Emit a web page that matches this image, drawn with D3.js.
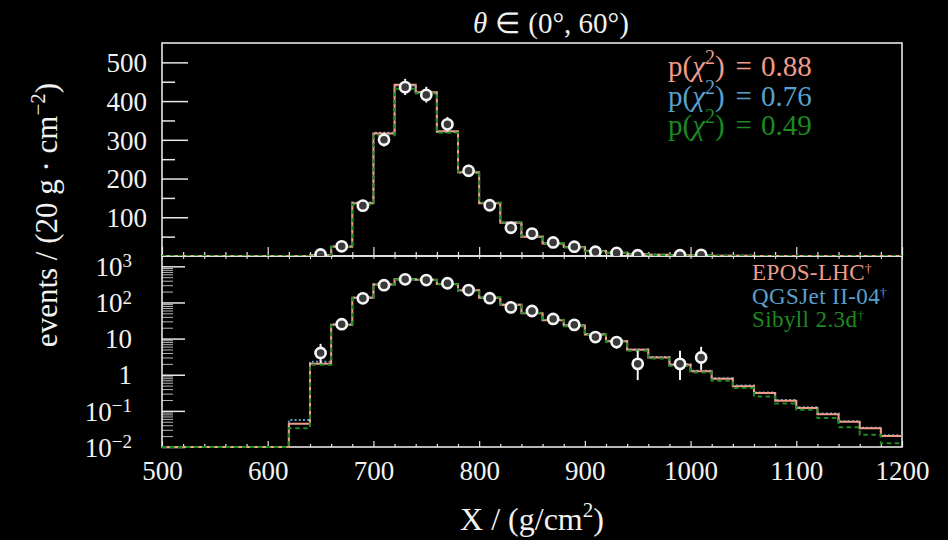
<!DOCTYPE html>
<html>
<head>
<meta charset="utf-8">
<script src="https://cdn.jsdelivr.net/npm/d3@7"></script>
<style>
  html, body { margin: 0; padding: 0; background: #000; }
  svg { display: block; }
  text { font-family: "Liberation Serif", "Times New Roman", serif; fill: #f2f2f2; }
</style>
</head>
<body>
<svg id="chart" width="948" height="540"></svg>
<script>
// Bin edges of the depth histogram, g/cm^2
const binEdges = [500, 520, 540, 560, 580, 600, 620, 640, 660, 680, 700, 720, 740, 760, 780,
  800, 820, 840, 860, 880, 900, 920, 940, 960, 980, 1000, 1020, 1040, 1060, 1080,
  1100, 1120, 1140, 1160, 1180, 1200];

// Expected events per bin for each hadronic interaction model
const eposLHC = [0, 0, 0, 0, 0, 0, 0.044, 2.0, 24, 136, 316, 442, 423, 322, 216,
  136, 86, 50, 32, 23, 13, 8.4, 4.9, 3.0, 1.9, 1.24, 0.78, 0.48, 0.31, 0.19,
  0.12, 0.081, 0.050, 0.033, 0.020];
const qgsjet = [0, 0, 0, 0, 0, 0, 0.056, 2.3, 25, 138, 318, 440, 420, 320, 215,
  137, 87, 51, 32.5, 23.5, 13.3, 8.6, 5.0, 3.1, 1.95, 1.28, 0.80, 0.50, 0.32, 0.20,
  0.125, 0.084, 0.052, 0.034, 0.021];
const sibyll = [0, 0, 0, 0, 0, 0, 0.033, 1.9, 23, 133, 312, 432, 420, 318, 218,
  138, 87, 52, 33, 22, 12.5, 8.0, 4.6, 2.8, 1.75, 1.15, 0.68, 0.43, 0.25, 0.16,
  0.107, 0.063, 0.035, 0.022, 0.0127];

// Observed events (bin centres) with 68% Poisson intervals
const dataX  = [650, 670, 690, 710, 730, 750, 770, 790, 810, 830, 850, 870, 890, 910, 930, 950, 990, 1010];
const dataN  = [4, 25, 130, 300, 436, 416, 340, 220, 131, 73, 58, 35, 24, 11, 8, 2, 2, 3];
const dataLo = [2.09, 20.1, 118.7, 282.8, 415.6, 396.1, 321.8, 205.4, 119.7, 64.6, 50.6, 29.3, 19.4, 7.7, 5.25, 0.71, 0.71, 1.37];
const dataHi = [7.16, 30.6, 141.9, 317.8, 457.4, 436.9, 359.0, 235.6, 143.0, 82.1, 66.2, 41.4, 29.7, 15.4, 11.8, 4.64, 4.64, 5.92];

const modelNames = ["EPOS-LHC", "QGSJet II-04", "Sibyll 2.3d"];
const pChi2 = ["0.88", "0.76", "0.49"];
const modelColors = ["#ef9c8b", "#5aa0cc", "#1d8a22"];

const linTicks = [100, 200, 300, 400, 500];
const linMinor = [50, 150, 250, 350, 450];
const logTicks = [0.01, 0.1, 1, 10, 100, 1000];
const logTickBase = ["10", "10", "1", "10", "10", "10"];
const logTickExp = ["−2", "−1", "", "", "2", "3"];
const xTicks = [500, 600, 700, 800, 900, 1000, 1100, 1200];

const svg = d3.select("#chart");
const left = 162, right = 902;
const topP = { y0: 43, y1: 256 };
const botP = { y0: 256, y1: 447 };

const x = d3.scaleLinear().domain([500, 1200]).range([left, right]);
const yLin = d3.scaleLinear().domain([0, 550]).range([topP.y1, topP.y0]);
const yLog = d3.scaleLog().domain([0.01, 1930]).range([botP.y1, botP.y0]).clamp(true);

const frameColor = "#e6e6e6";
const minorX = d3.range(500, 1201, 20).filter(v => v % 100 !== 0);

// clip regions for the two panels
const defs = svg.append("defs");
defs.append("clipPath").attr("id", "clipTop").append("rect")
  .attr("x", left).attr("y", topP.y0).attr("width", right - left).attr("height", topP.y1 - topP.y0);
defs.append("clipPath").attr("id", "clipBot").append("rect")
  .attr("x", left).attr("y", botP.y0 - 1).attr("width", right - left).attr("height", botP.y1 - botP.y0 + 2);

function styleAxis(g, color, width) {
  g.select(".domain").remove();
  g.selectAll(".tick line").attr("stroke", color).attr("stroke-width", width);
}

// ---------- top panel: linear scale ----------
const gTop = svg.append("g");
gTop.append("g").attr("transform", `translate(${left},0)`)
  .call(d3.axisLeft(yLin).tickValues(linTicks).tickSizeInner(-26).tickSizeOuter(0).tickPadding(15))
  .call(g => styleAxis(g, frameColor, 1.5))
  .call(g => g.selectAll("text").attr("font-size", 27).attr("fill", "#f2f2f2")
    .attr("font-family", "Liberation Serif, serif").attr("dy", "0.34em"));
gTop.append("g").attr("transform", `translate(${left},0)`)
  .call(d3.axisLeft(yLin).tickValues(linMinor).tickSizeInner(-13).tickSizeOuter(0).tickFormat(""))
  .call(g => styleAxis(g, frameColor, 1.5));
gTop.append("g").attr("transform", `translate(0,${topP.y1})`)
  .call(d3.axisBottom(x).tickValues(xTicks).tickSizeInner(-9).tickSizeOuter(0).tickFormat(""))
  .call(g => styleAxis(g, frameColor, 1.2));
gTop.append("g").attr("transform", `translate(0,${topP.y1})`)
  .call(d3.axisBottom(x).tickValues(minorX).tickSizeInner(-4).tickSizeOuter(0).tickFormat(""))
  .call(g => styleAxis(g, frameColor, 1.2));

// ---------- bottom panel: log scale ----------
const gBot = svg.append("g");
const logMinor = [];
[-2, -1, 0, 1, 2, 3].forEach(k => { for (let m = 2; m <= 9; m++) { const v = m * Math.pow(10, k); if (v < 1930) logMinor.push(v); } });
gBot.append("g").attr("transform", `translate(${left},0)`)
  .call(d3.axisLeft(yLog).tickValues(logMinor).tickSizeInner(-11).tickSizeOuter(0).tickFormat(""))
  .call(g => styleAxis(g, "#b8b8b8", 1));
gBot.append("g").attr("transform", `translate(${left},0)`)
  .call(d3.axisLeft(yLog).tickValues(logTicks).tickSizeInner(-23).tickSizeOuter(0).tickPadding(30)
    .tickFormat((d, i) => logTickBase[i]))
  .call(g => styleAxis(g, frameColor, 1.5))
  .call(g => g.selectAll("text").attr("font-size", 27).attr("fill", "#f2f2f2")
    .attr("font-family", "Liberation Serif, serif").attr("dy", "0.34em")
    .each(function (d, i) {
      const t = d3.select(this);
      const exp = logTickExp[i];
      if (exp) {
        t.append("tspan").attr("dy", "-0.45em").attr("font-size", 19).text(exp);
      }
    }));
gBot.append("g").attr("transform", `translate(0,${botP.y1})`)
  .call(d3.axisBottom(x).tickValues(xTicks).tickSizeInner(-6).tickSizeOuter(0).tickPadding(14)
    .tickFormat(d3.format("d")))
  .call(g => styleAxis(g, frameColor, 1.2))
  .call(g => g.selectAll("text").attr("font-size", 27).attr("fill", "#f2f2f2")
    .attr("font-family", "Liberation Serif, serif"));
gBot.append("g").attr("transform", `translate(0,${botP.y1})`)
  .call(d3.axisBottom(x).tickValues(minorX).tickSizeInner(-3).tickSizeOuter(0).tickFormat(""))
  .call(g => styleAxis(g, frameColor, 1.2));
gBot.append("g").attr("transform", `translate(0,${botP.y0})`)
  .call(d3.axisTop(x).tickValues(d3.range(500, 1201, 20)).tickSizeInner(-3).tickSizeOuter(0).tickFormat(""))
  .call(g => styleAxis(g, frameColor, 1));

// panel frames
[topP, botP].forEach(p => {
  svg.append("rect").attr("x", left).attr("y", p.y0).attr("width", right - left).attr("height", p.y1 - p.y0)
    .attr("fill", "none").attr("stroke", frameColor).attr("stroke-width", 1.6);
});

// ---------- model histograms ----------
function stepPoints(vals) {
  const pts = [];
  vals.forEach((v, i) => { pts.push([binEdges[i], v]); pts.push([binEdges[i + 1], v]); });
  return pts;
}
const models = [
  { vals: qgsjet, color: modelColors[1], dash: "2,2.2" },
  { vals: eposLHC, color: modelColors[0], dash: null },
  { vals: sibyll, color: modelColors[2], dash: "4.5,3.5" }
];
const panels = [
  { y: yLin, clip: "clipTop", floor: 0 },
  { y: yLog, clip: "clipBot", floor: 0.01 }
];
panels.forEach(p => {
  const g = svg.append("g").attr("clip-path", `url(#${p.clip})`);
  const line = d3.line().x(d => x(d[0])).y(d => p.y(Math.max(d[1], p.floor)));
  models.forEach(m => {
    g.append("path").attr("d", line(stepPoints(m.vals)))
      .attr("fill", "none").attr("stroke", m.color).attr("stroke-width", 2)
      .attr("stroke-dasharray", m.dash);
  });
  // data points with error bars
  const pts = g.selectAll("g.pt").data(dataX).join("g").attr("class", "pt");
  pts.append("line")
    .attr("x1", d => x(d)).attr("x2", d => x(d))
    .attr("y1", (d, i) => p.y(dataLo[i])).attr("y2", (d, i) => p.y(dataHi[i]))
    .attr("stroke", "#f4f4f4").attr("stroke-width", 2);
  pts.append("circle")
    .attr("cx", d => x(d)).attr("cy", (d, i) => p.y(dataN[i])).attr("r", 5.1)
    .attr("fill", "#3a3a3a").attr("stroke", "#f6f6f6").attr("stroke-width", 2.6);
});

// ---------- texts ----------
// title
const title = svg.append("text").attr("x", 551).attr("y", 33).attr("text-anchor", "middle").attr("font-size", 29);
title.append("tspan").attr("font-style", "italic").text("θ");
title.append("tspan").attr("dx", 8).text("∈");
title.append("tspan").attr("dx", 8).text("(0°, 60°)");

// goodness-of-fit labels
pChi2.forEach((pv, i) => {
  const t = svg.append("text").attr("x", 668).attr("y", 76 + i * 29.5).attr("font-size", 29)
    .style("fill", modelColors[i]);
  t.append("tspan").text("p(");
  t.append("tspan").attr("font-style", "italic").text("χ");
  t.append("tspan").attr("dy", -12).attr("font-size", 20).text("2");
  t.append("tspan").attr("dy", 12).text(")");
  t.append("tspan").attr("dx", 11).text("=");
  t.append("tspan").attr("dx", 9).text(pv);
});

// legend
modelNames.forEach((name, i) => {
  const t = svg.append("text").attr("x", 752).attr("y", 280 + i * 23.5).attr("font-size", 23)
    .attr("letter-spacing", 0.4).style("fill", modelColors[i]);
  t.append("tspan").text(name);
  t.append("tspan").attr("dy", -7).attr("font-size", 13).text("†");
});

// axis titles
const yt = svg.append("text").attr("transform", "translate(57,215) rotate(-90)")
  .attr("text-anchor", "middle").attr("font-size", 31);
yt.append("tspan").text("events / (20 g · cm");
yt.append("tspan").attr("dy", -12).attr("font-size", 21).text("−2");
yt.append("tspan").attr("dy", 12).text(")");

const xt = svg.append("text").attr("x", 532).attr("y", 530).attr("text-anchor", "middle").attr("font-size", 32);
xt.append("tspan").text("X / (g/cm");
xt.append("tspan").attr("dy", -13).attr("font-size", 21).text("2");
xt.append("tspan").attr("dy", 13).text(")");
</script>
</body>
</html>
